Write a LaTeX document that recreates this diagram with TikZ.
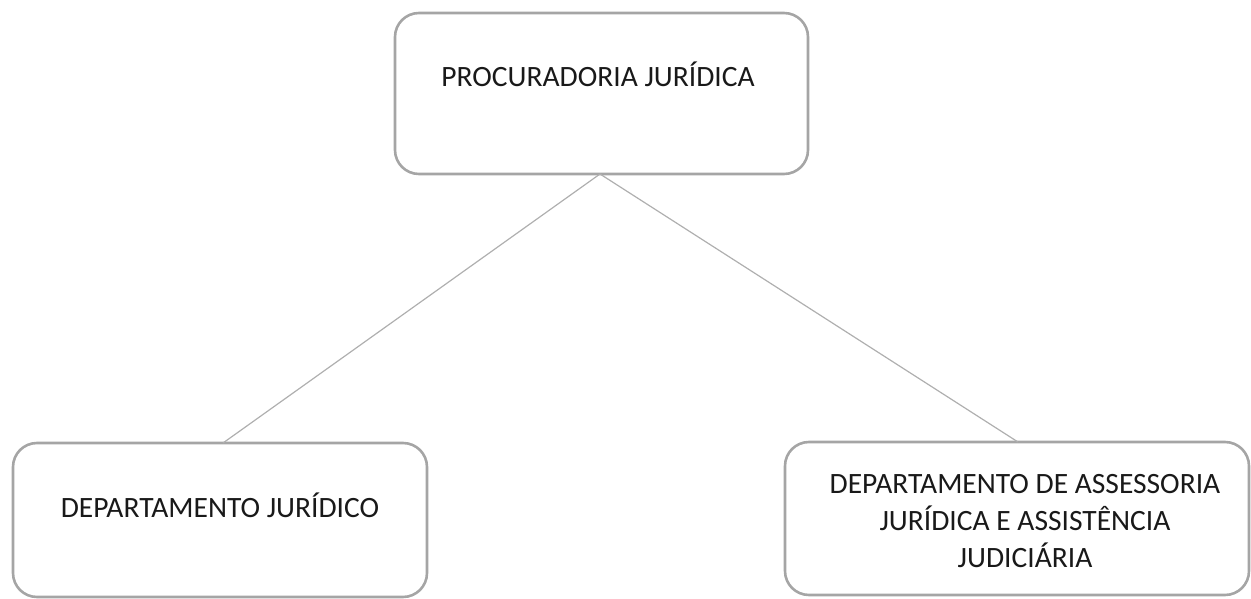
\documentclass[tikz,border=0pt]{standalone}
\usepackage{fontspec}
\setmainfont{Carlito}
\definecolor{boxgray}{RGB}{165,165,165}
\definecolor{linegray}{RGB}{175,175,175}
\definecolor{txt}{RGB}{25,25,25}
\tikzset{
  orgbox/.style={draw=boxgray, line width=2.6pt, rounded corners=24pt},
  orgtext/.style={text=txt, font=\fontsize{29.5}{37}\selectfont, inner sep=0pt, anchor=base, align=center},
  conn/.style={draw=linegray, line width=1.2pt}
}
\begin{document}
\begin{tikzpicture}[x=1pt,y=-1pt]
\useasboundingbox (0,0) rectangle (1251,599);
\draw[orgbox] (395,13) rectangle (808,174);
\draw[orgbox] (13,443) rectangle (427,597);
\draw[orgbox] (785,442) rectangle (1249,595);
\coordinate (topb) at (600,174);
\coordinate (leftt) at (223,443);
\coordinate (rightt) at (1018,442);
\node[orgtext] (t1) at (598,87) {PROCURADORIA JURÍDICA};
\node[orgtext] (t2) at (220,517) {DEPARTAMENTO JURÍDICO};
\node[orgtext, anchor=north] (t3) at (1025,474) {DEPARTAMENTO DE ASSESSORIA\\JURÍDICA E ASSISTÊNCIA\\JUDICIÁRIA};
\draw[conn] (topb) -- (leftt);
\draw[conn] (topb) -- (rightt);
\end{tikzpicture}
\end{document}
